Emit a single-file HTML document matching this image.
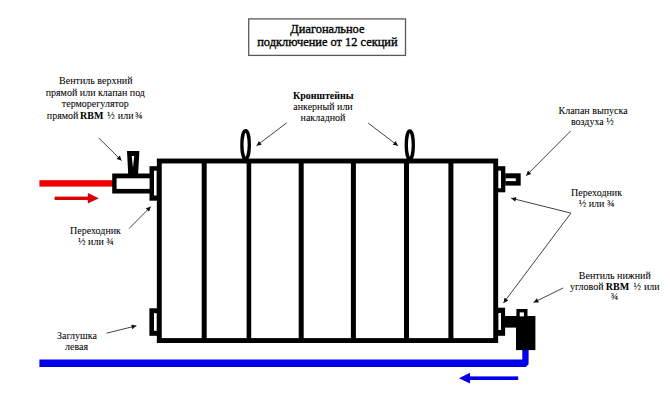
<!DOCTYPE html>
<html><head><meta charset="utf-8">
<style>
html,body{margin:0;padding:0;background:#fff;width:670px;height:409px;overflow:hidden}
svg{position:absolute;left:0;top:0}
text{font-family:"Liberation Serif",serif;font-size:10px;fill:#000;stroke:#000;stroke-width:0.05px;text-anchor:middle}
.b{font-weight:bold}
.s{text-anchor:start}
</style></head><body>
<svg width="670" height="409" viewBox="0 0 670 409">
<defs>
<marker id="ah" viewBox="0 0 10 10" refX="10" refY="5" markerWidth="6.3" markerHeight="4.8" orient="auto" markerUnits="userSpaceOnUse">
<path d="M0,0 L10,5 L0,10 z" fill="#111"/>
</marker>
</defs>
<rect x="0" y="0" width="670" height="409" fill="#fff"/>
<!-- title box -->
<rect x="248.7" y="18.9" width="156.8" height="36.5" fill="none" stroke="#5a5a5a" stroke-width="1.3"/>
<text x="327.4" y="32.8" style="font-size:12.4px;stroke-width:0.35px">Диагональное</text>
<text x="327.4" y="46.3" style="font-size:12.4px;stroke-width:0.35px">подключение от 12 секций</text>

<!-- labels -->
<text x="95.8" y="84">Вентиль верхний</text>
<text x="95.3" y="95.9">прямой или клапан под</text>
<text x="95.3" y="107.3">терморегулятор</text>
<text x="46.8" y="118.9" class="s">прямой</text><text x="80" y="118.9" class="s b">RBM</text><text x="107.2" y="118.9" class="s">½</text><text x="117.8" y="118.9" class="s">или</text><text x="135" y="118.9" class="s">¾</text>

<text x="323.3" y="99" class="b">Кронштейны</text>
<text x="323" y="110">анкерный или</text>
<text x="323" y="120.9">накладной</text>

<text x="593.1" y="113.8">Клапан выпуска</text>
<text x="592.3" y="124.6">воздуха ½</text>

<text x="596.6" y="195.9">Переходник</text>
<text x="596.6" y="206.6">½ или ¾</text>

<text x="95.5" y="233.7">Переходник</text>
<text x="95.9" y="244.6">½ или ¾</text>

<text x="614.8" y="278.9">Вентиль нижний</text>
<text x="570" y="289.6" class="s">угловой</text><text x="605.8" y="289.6" class="s b">RBM</text><text x="633.5" y="289.6" class="s">½</text><text x="644" y="289.6" class="s">или</text>
<text x="614.6" y="300.2">¾</text>

<text x="76.9" y="339.1">Заглушка</text>
<text x="76.6" y="349.5">левая</text>

<!-- red pipe -->
<rect x="39.4" y="180.2" width="75" height="6.4" fill="#ee0000"/>
<rect x="54.6" y="196.6" width="34" height="3.4" fill="#dd0000"/>
<path d="M87.9,193.1 L98.8,198.3 L87.9,203.6 z" fill="#dd0000"/>

<!-- blue pipe -->
<path d="M39.4,359.6 L522.3,359.6 L522.3,347 L528.6,347 L528.6,364.2 L525.8,366.9 L39.4,366.9 z" fill="#0000ee"/>
<rect x="469" y="376.4" width="49.2" height="3.6" fill="#0000ee"/>
<path d="M459,378.2 L470,372.8 L470,383.4 z" fill="#0000ee"/>

<!-- radiator -->
<rect x="159.3" y="161" width="336.4" height="179.55" fill="none" stroke="#000" stroke-width="4.9"/>
<g fill="#000">
<rect x="201.7" y="160" width="5" height="182"/>
<rect x="246.6" y="160" width="4.6" height="182"/>
<rect x="298.7" y="160" width="5" height="182"/>
<rect x="350.9" y="160" width="5" height="182"/>
<rect x="404" y="160" width="5" height="182"/>
<rect x="448.4" y="160" width="5" height="182"/>
</g>
<!-- brackets -->
<ellipse cx="245.6" cy="144.8" rx="3.7" ry="14.1" fill="none" stroke="#000" stroke-width="3.3"/>
<ellipse cx="409.8" cy="145" rx="3.5" ry="14.1" fill="none" stroke="#000" stroke-width="3.3"/>

<!-- left upper coupling -->
<rect x="149.5" y="166.2" width="8" height="34.5" fill="#000"/>
<rect x="154" y="170.7" width="2.6" height="24.8" fill="#fff"/>
<!-- upper valve body -->
<rect x="112.2" y="173.5" width="38.2" height="20" fill="#000"/>
<rect x="116.6" y="178.3" width="33" height="10.6" fill="#fff"/>
<!-- handle -->
<path d="M127,151.1 L139.4,151.1 L138.1,174 L128.2,174 z" fill="#000"/>
<path d="M131.7,156 L134.2,156 L133,167.7 z" fill="#fff"/>

<!-- left lower plug -->
<rect x="149.4" y="308.3" width="8" height="27.5" fill="#000"/>
<rect x="154" y="313.2" width="2.7" height="17.6" fill="#fff"/>

<!-- right upper coupling -->
<rect x="497.6" y="166.2" width="7.7" height="26.1" fill="#000"/>
<rect x="498.3" y="170.6" width="2.7" height="17.7" fill="#fff"/>
<rect x="505.2" y="173.3" width="15.5" height="12.3" fill="#000"/>
<rect x="505.8" y="178.3" width="10" height="2.8" fill="#fff"/>

<!-- right lower coupling -->
<rect x="497.6" y="307.7" width="7.5" height="28.1" fill="#000"/>
<rect x="498.4" y="313" width="2.6" height="17" fill="#fff"/>
<rect x="505" y="316" width="12" height="11.6" fill="#000"/>
<rect x="516" y="316" width="19.4" height="34.1" fill="#000"/>
<rect x="516.4" y="309" width="11.1" height="8" fill="#000"/>
<rect x="519.7" y="312.4" width="4.2" height="4" fill="#fff"/>

<!-- pointer arrows -->
<g stroke="#3a3a3a" stroke-width="0.95" fill="none" marker-end="url(#ah)">
<line x1="98.9" y1="138.1" x2="121.6" y2="160.6"/>
<line x1="286.7" y1="122.8" x2="256.5" y2="145.7"/>
<line x1="368.2" y1="123.1" x2="398" y2="145.8"/>
<line x1="570.6" y1="131" x2="526.2" y2="175.7"/>
<line x1="570.9" y1="213.1" x2="511.2" y2="198.2"/>
<line x1="570.9" y1="213.1" x2="503.5" y2="302.9"/>
<line x1="563.1" y1="288" x2="533.6" y2="302.5"/>
<line x1="129.1" y1="228.5" x2="150.8" y2="206.6"/>
<line x1="106.5" y1="333.2" x2="136.4" y2="325.8"/>
</g>
</svg>
</body></html>
